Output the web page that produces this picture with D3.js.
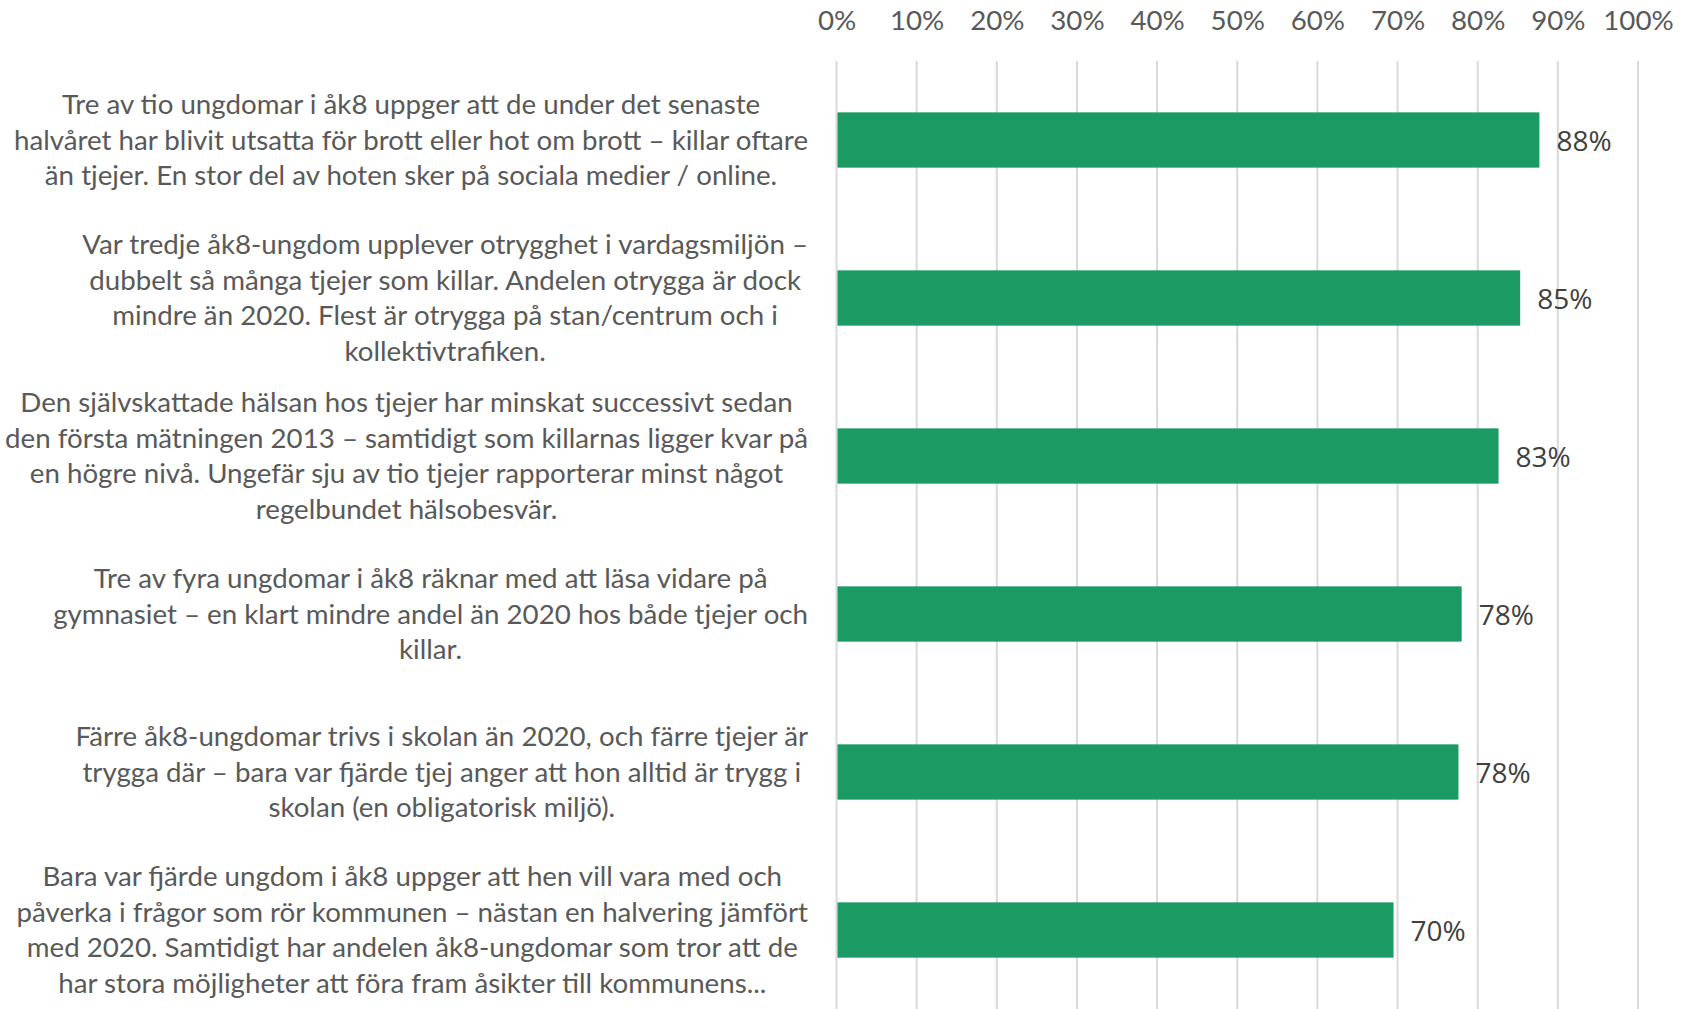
<!DOCTYPE html>
<html>
<head>
<meta charset="utf-8">
<script src="https://cdn.jsdelivr.net/npm/d3@7"></script>
<style>
  html, body { margin: 0; padding: 0; background: #ffffff; }
  svg { display: block; }
</style>
</head>
<body>
<svg id="chart" width="1682" height="1009"></svg>
<script>
// ---- data ----
const categories = [
  "Tre av tio ungdomar i åk8 uppger att de under det senaste\nhalvåret har blivit utsatta för brott eller hot om brott – killar oftare\nän tjejer. En stor del av hoten sker på sociala medier / online.",
  "Var tredje åk8-ungdom upplever otrygghet i vardagsmiljön –\ndubbelt så många tjejer som killar. Andelen otrygga är dock\nmindre än 2020. Flest är otrygga på stan/centrum och i\nkollektivtrafiken.",
  "Den självskattade hälsan hos tjejer har minskat successivt sedan\nden första mätningen 2013 – samtidigt som killarnas ligger kvar på\nen högre nivå. Ungefär sju av tio tjejer rapporterar minst något\nregelbundet hälsobesvär.",
  "Tre av fyra ungdomar i åk8 räknar med att läsa vidare på\ngymnasiet – en klart mindre andel än 2020 hos både tjejer och\nkillar.",
  "Färre åk8-ungdomar trivs i skolan än 2020, och färre tjejer är\ntrygga där – bara var fjärde tjej anger att hon alltid är trygg i\nskolan (en obligatorisk miljö).",
  "Bara var fjärde ungdom i åk8 uppger att hen vill vara med och\npåverka i frågor som rör kommunen – nästan en halvering jämfört\nmed 2020. Samtidigt har andelen åk8-ungdomar som tror att de\nhar stora möjligheter att föra fram åsikter till kommunens..."
];
const values = [0.877, 0.853, 0.826, 0.780, 0.776, 0.695];
const tickValues = [0, 0.1, 0.2, 0.3, 0.4, 0.5, 0.6, 0.7, 0.8, 0.9, 1.0];

// ---- layout ----
const svg = d3.select("#chart");
const plotLeft = 836.5, plotRight = 1638, plotTop = 61, plotBottom = 1009;
const labelRight = 808;
const lineH = 35.6;

const x = d3.scaleLinear().domain([0, 1]).range([plotLeft, plotRight]);
const y = d3.scaleBand().domain(d3.range(categories.length))
  .range([plotTop, plotBottom]).paddingInner(0.65).paddingOuter(0.325);

const labelFont = "Lato, 'Open Sans', sans-serif";
const textColor = "#595959";

// gridlines
svg.append("g").selectAll("line").data(tickValues).join("line")
  .attr("x1", d => x(d)).attr("x2", d => x(d))
  .attr("y1", plotTop).attr("y2", plotBottom)
  .attr("stroke", "#d9d9d9").attr("stroke-width", 2);

// top axis labels
const axis = d3.axisTop(x).tickValues(tickValues).tickFormat(d3.format(".0%")).tickSize(0);
const axG = svg.append("g").attr("transform", "translate(0,33)").call(axis);
axG.select(".domain").remove();
axG.selectAll("text")
  .attr("font-family", labelFont).attr("font-size", 27.7)
  .attr("fill", textColor).attr("dy", 0);

// bars
svg.append("g").selectAll("rect").data(values).join("rect")
  .attr("x", x(0) + 1)
  .attr("y", (d, i) => y(i))
  .attr("width", d => x(d) - x(0) - 1)
  .attr("height", y.bandwidth())
  .attr("fill", "#1b9a63");

// value labels
svg.append("g").selectAll("text").data(values).join("text")
  .attr("x", d => x(d) + 17)
  .attr("y", (d, i) => y(i) + y.bandwidth() / 2)
  .attr("dominant-baseline", "central")
  .attr("font-family", "'Open Sans', sans-serif")
  .attr("font-size", 28)
  .attr("fill", "#404040")
  .text(d => d3.format(".0%")(d));

// category labels
const catG = svg.append("g");
categories.forEach((c, i) => {
  const lines = c.split("\n");
  const cy = y(i) + y.bandwidth() / 2 - 1;
  const t = catG.append("text")
    .attr("font-family", labelFont).attr("font-size", 27.7)
    .attr("fill", textColor).attr("text-anchor", "middle");
  const spans = lines.map((l, k) => t.append("tspan")
    .attr("y", cy + (k - (lines.length - 1) / 2) * lineH)
    .attr("dominant-baseline", "central")
    .text(l));
  const maxW = d3.max(spans, s => s.node().getComputedTextLength());
  spans.forEach(s => s.attr("x", labelRight - maxW / 2));
});
</script>
</body>
</html>
